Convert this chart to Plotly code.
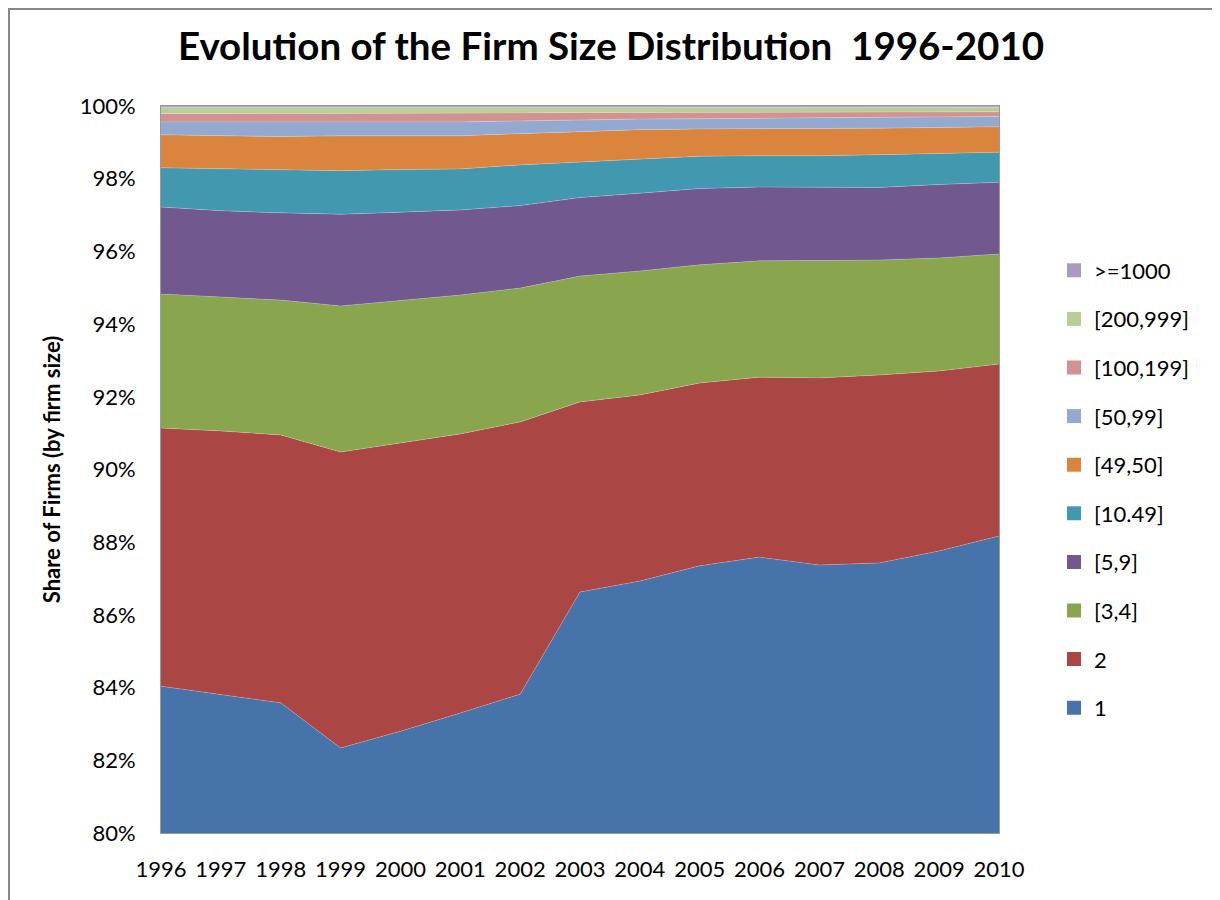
import plotly.graph_objects as go

years = list(range(1996, 2011))

series_names = ["1", "2", "[3,4]", "[5,9]", "[10.49]", "[49,50]", "[50,99]",
                "[100,199]", "[200,999]", ">=1000"]

share_1 = [84.04, 83.82, 83.58, 82.34, 82.80, 83.30, 83.82, 86.63, 86.93, 87.35, 87.59, 87.37, 87.43, 87.76, 88.17]
share_2 = [7.10, 7.24, 7.37, 8.14, 7.93, 7.68, 7.49, 5.23, 5.12, 5.03, 4.95, 5.15, 5.17, 4.95, 4.73]
share_3_4 = [3.69, 3.69, 3.71, 4.02, 3.93, 3.82, 3.68, 3.46, 3.41, 3.25, 3.20, 3.22, 3.16, 3.11, 3.03]
share_5_9 = [2.39, 2.37, 2.40, 2.52, 2.42, 2.34, 2.27, 2.16, 2.14, 2.10, 2.03, 2.02, 2.00, 2.02, 1.97]
share_10_49 = [1.08, 1.15, 1.19, 1.20, 1.17, 1.13, 1.12, 0.98, 0.94, 0.89, 0.86, 0.87, 0.90, 0.86, 0.83]
share_49_50 = [0.91, 0.91, 0.91, 0.96, 0.93, 0.91, 0.86, 0.84, 0.81, 0.75, 0.74, 0.75, 0.73, 0.71, 0.70]
share_50_99 = [0.35, 0.38, 0.38, 0.38, 0.38, 0.38, 0.35, 0.32, 0.29, 0.28, 0.30, 0.30, 0.30, 0.29, 0.28]
share_100_199 = [0.23, 0.23, 0.25, 0.24, 0.24, 0.24, 0.22, 0.20, 0.18, 0.18, 0.16, 0.15, 0.15, 0.14, 0.13]
share_200_999 = [0.17, 0.17, 0.17, 0.16, 0.16, 0.16, 0.15, 0.14, 0.14, 0.13, 0.13, 0.13, 0.12, 0.12, 0.12]
share_1000 = [0.04] * 15

series_values = [share_1, share_2, share_3_4, share_5_9, share_10_49, share_49_50,
                 share_50_99, share_100_199, share_200_999, share_1000]

colors = ["#4673A9", "#AA4643", "#89A54E", "#71588F", "#4198AF", "#DB843D",
          "#93A9CF", "#D19392", "#B9CD96", "#A99BBD"]

font_family = "Lato, 'Open Sans', sans-serif"

fig = go.Figure()
for name, vals, col in zip(series_names, series_values, colors):
    fig.add_trace(go.Scatter(
        x=years, y=vals, name=name, mode="lines",
        stackgroup="one", showlegend=False,
        line=dict(width=0.6, color="rgba(255,255,255,0.35)"),
        fillcolor=col,
    ))
# legend entries with square swatches, largest size class on top
for name, col in reversed(list(zip(series_names, colors))):
    fig.add_trace(go.Scatter(
        x=[None], y=[None], name=name, mode="markers", legendgroup=name,
        marker=dict(symbol="square", size=14, color=col),
    ))

# page body adds an 8px offset; figure sized to fit the window
W, H = 1212, 892
ml, mt = 153, 98
pw, ph = 838, 727
mr, mb = W - ml - pw, H - mt - ph

fig.update_layout(
    width=W, height=H,
    margin=dict(l=ml, r=mr, t=mt, b=mb),
    paper_bgcolor="white", plot_bgcolor="white",
    font=dict(family=font_family, size=22, color="black"),
    title=dict(text="<b>Evolution of the Firm Size Distribution  1996-2010</b>",
               x=(611 - 8 - ml) / pw, xref="paper", xanchor="center",
               y=1 - 39 / H, yanchor="middle",
               font=dict(size=38.5, color="black")),
    xaxis=dict(range=[1996, 2010], tickmode="array", tickvals=years,
               ticktext=[str(y) for y in years], showgrid=False,
               showline=True, linecolor="#999999", mirror=True, ticks="",
               tickfont=dict(size=22), zeroline=False, ticklabelstandoff=17),
    yaxis=dict(range=[80, 100], dtick=2, ticksuffix="%", showgrid=False,
               showline=True, linecolor="#999999", mirror=True, ticks="",
               tickfont=dict(size=22), zeroline=False, ticklabelstandoff=20,
               title=dict(text="<b>Share of Firms (by firm size)</b>",
                          font=dict(size=22), standoff=12)),
    legend=dict(traceorder="grouped", x=(1046 - ml) / pw, xanchor="left",
                y=1 - (481 - mt) / ph, yanchor="middle",
                font=dict(size=22), tracegroupgap=17,
                bgcolor="rgba(0,0,0,0)", itemwidth=30),
    showlegend=True,
)

fig.add_shape(type="rect", xref="paper", yref="paper",
              x0=-(ml - 1) / pw, x1=1 + (mr + 10) / pw,
              y0=-(mb + 10) / ph, y1=1 + (mt - 1) / ph,
              line=dict(color="#888888", width=2), layer="above")

fig.write_html("out.html")
